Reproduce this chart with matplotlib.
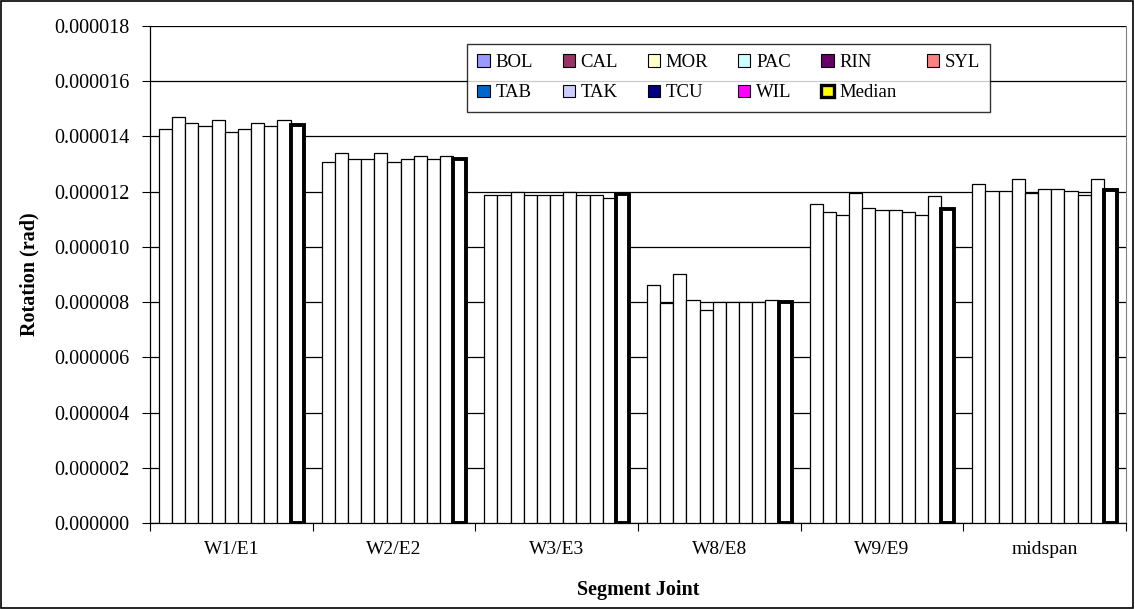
import matplotlib
matplotlib.use("Agg")
import matplotlib.pyplot as plt
import numpy as np
from matplotlib.patches import Patch, Rectangle

plt.rcParams['font.family'] = ['Liberation Serif', 'DejaVu Serif']

joints = ["W1/E1", "W2/E2", "W3/E3", "W8/E8", "W9/E9", "midspan"]

# Joint rotations (rad) per station
BOL = [14.27e-6, 13.07e-6, 11.88e-6, 8.63e-6, 11.57e-6, 12.28e-6]
CAL = [14.70e-6, 13.39e-6, 11.88e-6, 7.98e-6, 11.25e-6, 12.01e-6]
MOR = [14.48e-6, 13.19e-6, 12.00e-6, 9.02e-6, 11.17e-6, 12.01e-6]
PAC = [14.37e-6, 13.19e-6, 11.88e-6, 8.08e-6, 11.94e-6, 12.47e-6]
RIN = [14.59e-6, 13.39e-6, 11.88e-6, 7.71e-6, 11.41e-6, 11.94e-6]
SYL = [14.16e-6, 13.07e-6, 11.88e-6, 8.00e-6, 11.35e-6, 12.10e-6]
TAB = [14.27e-6, 13.19e-6, 12.00e-6, 8.00e-6, 11.35e-6, 12.10e-6]
TAK = [14.48e-6, 13.28e-6, 11.88e-6, 8.00e-6, 11.25e-6, 12.01e-6]
TCU = [14.37e-6, 13.19e-6, 11.88e-6, 8.00e-6, 11.17e-6, 11.89e-6]
WIL = [14.59e-6, 13.28e-6, 11.78e-6, 8.08e-6, 11.84e-6, 12.47e-6]
Median = [14.43e-6, 13.20e-6, 11.90e-6, 8.01e-6, 11.36e-6, 12.06e-6]

series_names = ["BOL", "CAL", "MOR", "PAC", "RIN", "SYL",
                "TAB", "TAK", "TCU", "WIL", "Median"]
series_values = [BOL, CAL, MOR, PAC, RIN, SYL, TAB, TAK, TCU, WIL, Median]
legend_colors = ["#9999FF", "#993366", "#FFFFCC", "#CCFFFF", "#660066", "#FF8080",
                 "#0066CC", "#CCCCFF", "#000080", "#FF00FF", "#FFFF00"]

yticks = np.arange(0, 18.1e-6, 2e-6)

W, H = 1135, 609
fig = plt.figure(figsize=(W / 100, H / 100), dpi=100)
ax = fig.add_axes([150 / W, (H - 523) / H, (1126 - 150) / W, (523 - 26) / H])

n = len(series_names)
bw = 1.0 / (n + 1.35)
x = np.arange(len(joints)) + 0.5
for i, (name, vals) in enumerate(zip(series_names, series_values)):
    pos = x + (i - (n - 1) / 2) * bw
    lw = 2.8 if name == "Median" else 0.9
    ax.bar(pos, vals, width=bw, facecolor="white", edgecolor="black",
           linewidth=lw, zorder=3)

ax.set_xlim(0, len(joints))
ax.set_ylim(0, 18e-6)
ax.set_yticks(yticks)
ax.set_yticklabels([f"{v:.6f}" for v in yticks], fontsize=14.5)
ax.set_xticks(np.arange(len(joints) + 1))
ax.set_xticklabels([])
ax.set_xticks(x, minor=True)
ax.set_xticklabels(joints, minor=True, fontsize=14)
ax.tick_params(axis="x", which="major", direction="out", length=6, width=0.8, color="black")
ax.tick_params(axis="x", which="minor", length=0, pad=13)
ax.tick_params(axis="y", direction="out", length=6, width=0.8, pad=9)

ax.grid(axis="y", color="black", linewidth=0.9, zorder=1)
ax.set_axisbelow(True)
ax.spines["top"].set_visible(False)
ax.spines["right"].set_color("#808080")
ax.spines["left"].set_color("black")
ax.spines["bottom"].set_color("black")
ax.spines["left"].set_linewidth(0.9)
ax.spines["bottom"].set_linewidth(0.9)

ax.set_ylabel("Rotation (rad)", fontsize=14.5, fontweight="bold", labelpad=10)
ax.set_xlabel("Segment Joint", fontsize=14.5, fontweight="bold", labelpad=16)

# Legend: row-wise order across 6 columns
handles = []
for name, col in zip(series_names, legend_colors):
    lw = 2.4 if name == "Median" else 0.8
    handles.append(Patch(facecolor=col, edgecolor="black", linewidth=lw, label=name))
order = [0, 6, 1, 7, 2, 8, 3, 9, 4, 10, 5]
leg = ax.legend([handles[k] for k in order], [series_names[k] for k in order],
                ncol=6, loc="upper left",
                bbox_to_anchor=(467 / W, (H - 112) / H, (990 - 467) / W, (112 - 44) / H),
                bbox_transform=fig.transFigure, mode="expand",
                fontsize=13.5, frameon=True, fancybox=False, edgecolor="black",
                handlelength=0.65, handleheight=0.65, handletextpad=0.3,
                columnspacing=1.0, borderaxespad=0, borderpad=0.55, labelspacing=0.7)
leg.get_frame().set_linewidth(1.0)
leg.set_zorder(5)

# Outer border of the figure
fig.patches.append(Rectangle((0.001, 0.002), 0.997, 0.996, transform=fig.transFigure,
                             fill=False, edgecolor="black", linewidth=1.2))

fig.savefig("out.png", dpi=100)
